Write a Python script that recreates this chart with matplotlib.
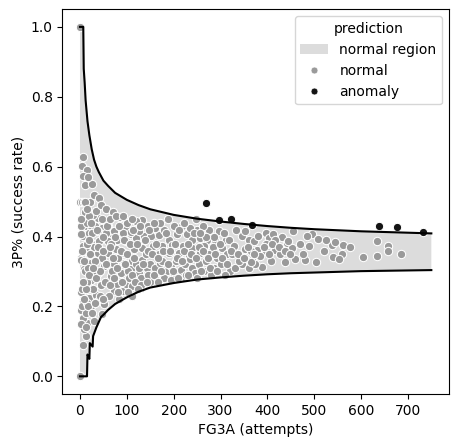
import numpy as np
import matplotlib
matplotlib.use("Agg")
import matplotlib.pyplot as plt
from matplotlib.patches import Patch
from matplotlib.lines import Line2D

# boundary of the normal region
upper_x=[0,7,8,10,12,14,16,18,20,25,30,35,40,50,60,75,100,125,150,200,250,300,350,400,450,500,550,600,650,700,750]
upper_y=[1.0,1.0,0.88,0.84,0.79,0.76,0.73,0.71,0.69,0.65,0.62,0.60,0.585,0.56,0.545,0.525,0.505,0.49,0.478,0.462,0.451,0.443,0.436,0.430,0.425,0.421,0.418,0.415,0.413,0.411,0.409]

lower_x=[0,15,16,20,21,27,28,35,45,50,60,75,100,125,150,200,250,300,350,400,450,500,550,600,650,700,750]
lower_y=[0.0,0.0,0.0625,0.05,0.095,0.085,0.115,0.14,0.17,0.176,0.19,0.207,0.226,0.242,0.254,0.267,0.277,0.283,0.288,0.292,0.295,0.297,0.299,0.301,0.302,0.303,0.304]

# players flagged normal
normal_x=[0,0,1,4,8,21,7,4,14,6,10,
    9,13,38,27,34,133,2,23,48,66,98,108,87,133,6,59,
    6,13,9,16,6,2,13,23,6,20,34,2,38,52,48,30,73,91,80,98,112,130,66,87,108,126,144,23,9,38,52,73,94,112,133,9,23,2,20,38,59,76,94,115,133,6,23,41,59,80,98,119,137,2,20,38,55,73,91,108,126,
    25,30,40,18,45,55,70,85,100,120,60,11,3,5,10,4,12,15,17,28,44,62,47,29,16,31,68,82,102,120,84,104,140,67,50,28,14,3,11,19,110,
    151,169,190,208,229,240,257,272,289,311,155,176,197,219,240,264,282,304,169,190,211,233,257,275,293,314,247,218,250,275,296,
    160,180,200,235,170,145,262,285,150,160,170,185,195,205,215,225,240,255,160,180,200,220,245,265,285,300,320,175,235,270,150,195,130,145,250,280,310,
    318,328,325,346,360,353,332,353,330,345,360,340,
    371,381,396,403,413,396,378,396,417,431,442,452,428,385,364,367,
    455,495,509,489,537,545,562,577,559,541,552,605,635,635,658,658,685,504,481,460,438,408,389,374,364,417,445,484,403,
    4,8,12,16,19,22,26,31,35,39,43,46,50,54,57,3,7,18,25,33,42,56,49,36,27,12,20,8,14,24,
    63,65,70,72,75,78,81,84,88,90,93,96,100,103,106,110,113,116,118,122,125,128,131,135,138,142,146,148,64,77,92,110,124,
    153,157,163,166,172,178,183,187,192,198,203,207,212,217,222,227,231,237,243,248,253,258,262,268,273,278,283,288,293,298,303,308,313,158,188,222,256,166,210,230,
    322,338,350,358,372,392,410,425,437,448,470,475,520,525]
normal_y=[1.0,0.0,0.5,0.5,0.5,0.5,0.627,0.603,0.59,0.572,0.547,
    0.447,0.43,0.453,0.463,0.474,0.447,0.43,0.42,0.425,0.41,0.425,0.406,0.401,0.401,0.401,0.43,
    0.091,0.115,0.134,0.154,0.168,0.191,0.182,0.2,0.215,0.225,0.234,0.24,0.215,0.206,0.177,0.158,0.244,0.244,0.263,0.263,0.258,0.253,0.287,0.296,0.306,0.296,0.31,0.277,0.268,0.296,0.315,0.32,0.325,0.33,0.334,0.306,0.325,0.339,0.349,0.353,0.353,0.363,0.353,0.363,0.367,0.372,0.382,0.387,0.387,0.391,0.387,0.396,0.401,0.406,0.41,0.415,0.41,0.415,0.41,0.412,0.415,
    0.55,0.52,0.51,0.57,0.49,0.48,0.47,0.455,0.44,0.445,0.445,0.5,0.333,0.25,0.3,0.2,0.36,0.27,0.31,0.25,0.26,0.23,0.34,0.37,0.44,0.43,0.30,0.34,0.30,0.32,0.22,0.28,0.35,0.38,0.4,0.29,0.21,0.15,0.47,0.46,0.23,
    0.401,0.403,0.391,0.406,0.406,0.391,0.396,0.391,0.391,0.391,0.372,0.372,0.377,0.374,0.367,0.374,0.363,0.367,0.349,0.353,0.353,0.344,0.353,0.349,0.339,0.349,0.449,0.431,0.418,0.418,0.415,
    0.425,0.42,0.43,0.425,0.44,0.43,0.43,0.40,0.32,0.31,0.325,0.30,0.315,0.33,0.305,0.32,0.31,0.32,0.285,0.28,0.29,0.285,0.295,0.30,0.31,0.32,0.30,0.33,0.335,0.33,0.27,0.275,0.28,0.29,0.28,0.29,0.29,
    0.391,0.372,0.349,0.401,0.391,0.363,0.42,0.415,0.31,0.32,0.31,0.33,
    0.387,0.401,0.41,0.396,0.406,0.38,0.361,0.358,0.361,0.399,0.382,0.367,0.349,0.344,0.358,0.334,
    0.415,0.406,0.394,0.372,0.377,0.383,0.377,0.37,0.351,0.342,0.336,0.342,0.387,0.344,0.374,0.358,0.351,0.327,0.332,0.336,0.327,0.331,0.312,0.32,0.326,0.391,0.387,0.401,0.349,
    0.36,0.33,0.25,0.38,0.29,0.35,0.41,0.33,0.28,0.37,0.30,0.45,0.36,0.27,0.43,0.45,0.27,0.2,0.18,0.21,0.23,0.32,0.22,0.42,0.31,0.14,0.39,0.22,0.48,0.44,
    0.37,0.26,0.34,0.28,0.4,0.31,0.24,0.43,0.36,0.27,0.39,0.32,0.35,0.24,0.38,0.29,0.42,0.34,0.27,0.38,0.31,0.43,0.26,0.32,0.39,0.27,0.36,0.42,0.45,0.46,0.46,0.45,0.25,
    0.35,0.29,0.38,0.34,0.30,0.36,0.41,0.32,0.36,0.30,0.38,0.34,0.42,0.33,0.36,0.29,0.38,0.35,0.41,0.34,0.37,0.30,0.36,0.40,0.34,0.31,0.37,0.35,0.30,0.38,0.34,0.41,0.32,0.44,0.45,0.44,0.41,0.27,0.28,0.29,
    0.36,0.35,0.34,0.37,0.35,0.37,0.38,0.37,0.36,0.35,0.38,0.35,0.36,0.39]

# players flagged anomaly
anomaly_x=[268,296,323,368,638,677,732]
anomaly_y=[0.497,0.446,0.449,0.434,0.429,0.426,0.414]

normal_color="#9a9a9a"
anomaly_color="#141414"
region_color="#dcdcdc"

fig,ax=plt.subplots(figsize=(4.59,4.48),dpi=100)
fig.subplots_adjust(left=0.136,right=0.978,bottom=0.121,top=0.979)

poly_x=np.concatenate([upper_x,lower_x[::-1]])
poly_y=np.concatenate([upper_y,lower_y[::-1]])
ax.fill(poly_x,poly_y,color=region_color,linewidth=0,zorder=1)

ax.scatter(normal_x,normal_y,s=36,color=normal_color,edgecolor="white",linewidth=0.75,zorder=2)
ax.scatter(anomaly_x,anomaly_y,s=36,color=anomaly_color,edgecolor="white",linewidth=0.75,zorder=3)

ax.plot(upper_x,upper_y,color="black",lw=1.5,zorder=4)
ax.plot(lower_x,lower_y,color="black",lw=1.5,zorder=4)

ax.set_xlim(-37.5,787.5)
ax.set_ylim(-0.05,1.05)
ax.set_xticks([0,100,200,300,400,500,600,700])
ax.set_yticks([0.0,0.2,0.4,0.6,0.8,1.0])
ax.set_xlabel("FG3A (attempts)")
ax.set_ylabel("3P% (success rate)")

handles=[Patch(facecolor=region_color,edgecolor="none",label="normal region"),
    Line2D([],[],marker="o",linestyle="",markersize=5,color=normal_color,markeredgecolor="white",markeredgewidth=0.5,label="normal"),
    Line2D([],[],marker="o",linestyle="",markersize=5,color=anomaly_color,markeredgecolor="white",markeredgewidth=0.5,label="anomaly")]
ax.legend(handles=handles,title="prediction",loc="upper right")

fig.savefig("out.png",dpi=100)
